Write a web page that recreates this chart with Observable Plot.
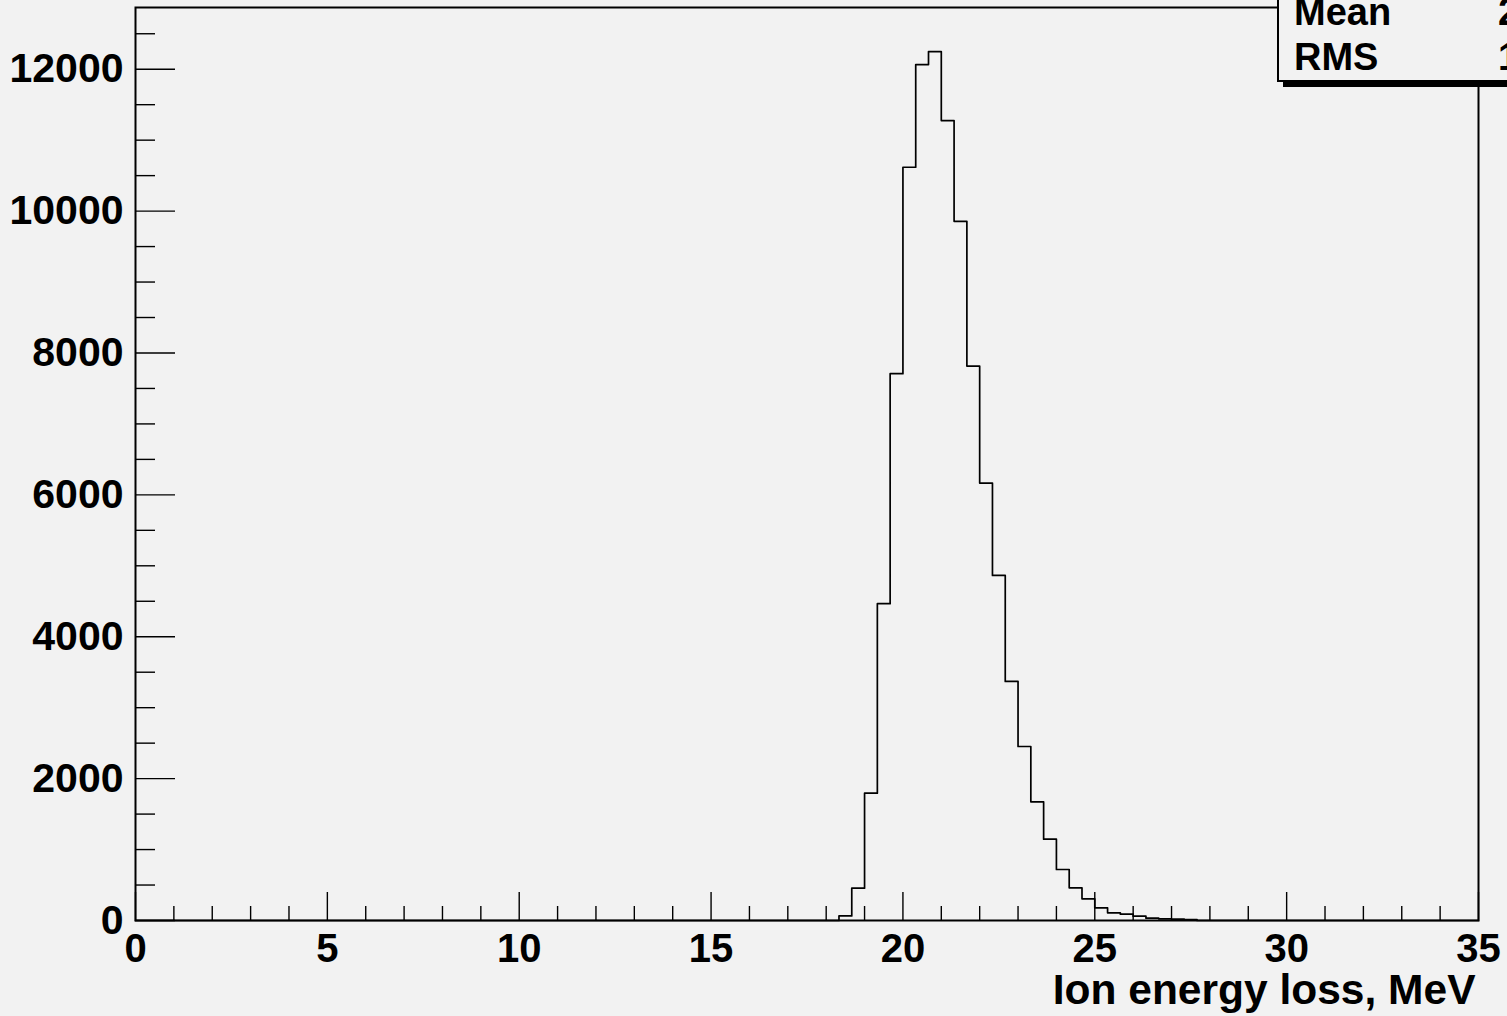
<!DOCTYPE html>
<html><head><meta charset="utf-8">
<script src="https://cdn.jsdelivr.net/npm/d3@7"></script>
<script src="https://cdn.jsdelivr.net/npm/@observablehq/plot@0.6"></script>
<style>
html,body{margin:0;padding:0;background:#f2f2f2;overflow:hidden}
#wrap{position:relative;width:1507px;height:1016px;overflow:hidden;background:#f2f2f2}
#stats{position:absolute;left:1277px;top:-40px;width:340px;height:122px;box-sizing:border-box;border:2px solid #000;background:#f2f2f2;box-shadow:6px 5px 0 #000;font:bold 38px "Liberation Sans",Arial,sans-serif;color:#000}
#stats .row{position:absolute;left:15px;height:45px;line-height:45px;white-space:nowrap}
#stats .val{position:absolute;left:204px;}
</style>
</head><body>
<div id="wrap"></div>
<script>
// ---- data ----
const xDomain = [0, 35];
const nBins = 105;                 // bin width 1/3 MeV
const firstFilledBin = 55;         // bin starting at 18.333 MeV
const filledCounts = [65, 455, 1795, 4466, 7708, 10618, 12066, 12249, 11276, 9856,
  7816, 6166, 4865, 3370, 2453, 1673, 1147, 719, 461, 306,
  179, 108, 89, 61, 33, 24, 18, 12];
const yMax = 12870;
const xMajorTicks = [0, 5, 10, 15, 20, 25, 30, 35];
const yMajorTicks = [0, 2000, 4000, 6000, 8000, 10000, 12000];
const xTitle = "Ion energy loss, MeV";
const statLabels = ["Mean", "RMS"];
const statValues = ["21.03", "1.072"];

// ---- build ----
const binWidth = (xDomain[1] - xDomain[0]) / nBins;
const counts = d3.range(nBins).map(i => {
  const k = i - firstFilledBin;
  return k >= 0 && k < filledCounts.length ? filledCounts[k] : 0;
});
const pts = counts.map((c, i) => ({x: xDomain[0] + i * binWidth, count: c}));
pts.push({x: xDomain[1], count: counts[nBins - 1]});

const xMinorTicks = d3.range(0, 36, 1).filter(d => d % 5 !== 0);
const yMinorTicks = d3.range(0, yMax, 500).filter(d => d % 2000 !== 0);

const font = "Liberation Sans, Arial, Helvetica, sans-serif";
const chart = Plot.plot({
  width: 1507, height: 1016,
  marginLeft: 135, marginRight: 29, marginTop: 7, marginBottom: 96,
  x: {domain: xDomain},
  y: {domain: [0, yMax]},
  style: {background: "#f2f2f2", fontFamily: font, color: "#000"},
  marks: [
    Plot.ruleY(yMajorTicks, {y: d => d, x1: 0, x2: 0, insetRight: -40, stroke: "#000", strokeWidth: 1.4}),
    Plot.ruleY(yMinorTicks, {y: d => d, x1: 0, x2: 0, insetRight: -20, stroke: "#000", strokeWidth: 1.4}),
    Plot.ruleX(xMajorTicks, {x: d => d, y1: 0, y2: 0, insetTop: -28, stroke: "#000", strokeWidth: 1.4}),
    Plot.ruleX(xMinorTicks, {x: d => d, y1: 0, y2: 0, insetTop: -14, stroke: "#000", strokeWidth: 1.4}),
    Plot.line(pts, {x: "x", y: "count", curve: "step-after", stroke: "#000", strokeWidth: 1.7}),
    Plot.frame({stroke: "#000", strokeWidth: 2}),
    Plot.axisY(yMajorTicks, {tickSize: 0, tickPadding: 12, tickFormat: d => String(d), label: null, fontSize: 41, fontWeight: "bold"}),
    Plot.axisX(xMajorTicks, {tickSize: 0, tickPadding: 13, tickFormat: d => String(d), label: null, fontSize: 40, fontWeight: "bold"}),
    Plot.text([xTitle], {text: d => d, frameAnchor: "bottom-right", dx: -3, dy: 83, textAnchor: "end", lineAnchor: "bottom", fontSize: 42.5, fontWeight: "bold"})
  ]
});
const wrap = document.getElementById("wrap");
wrap.appendChild(chart);

const stats = document.createElement("div");
stats.id = "stats";
statLabels.forEach((lab, i) => {
  const row = document.createElement("div");
  row.className = "row";
  row.style.top = (28 + i * 45) + "px";
  row.textContent = lab;
  const v = document.createElement("span");
  v.className = "val";
  v.textContent = statValues[i];
  row.appendChild(v);
  stats.appendChild(row);
});
wrap.appendChild(stats);
</script>
</body></html>
